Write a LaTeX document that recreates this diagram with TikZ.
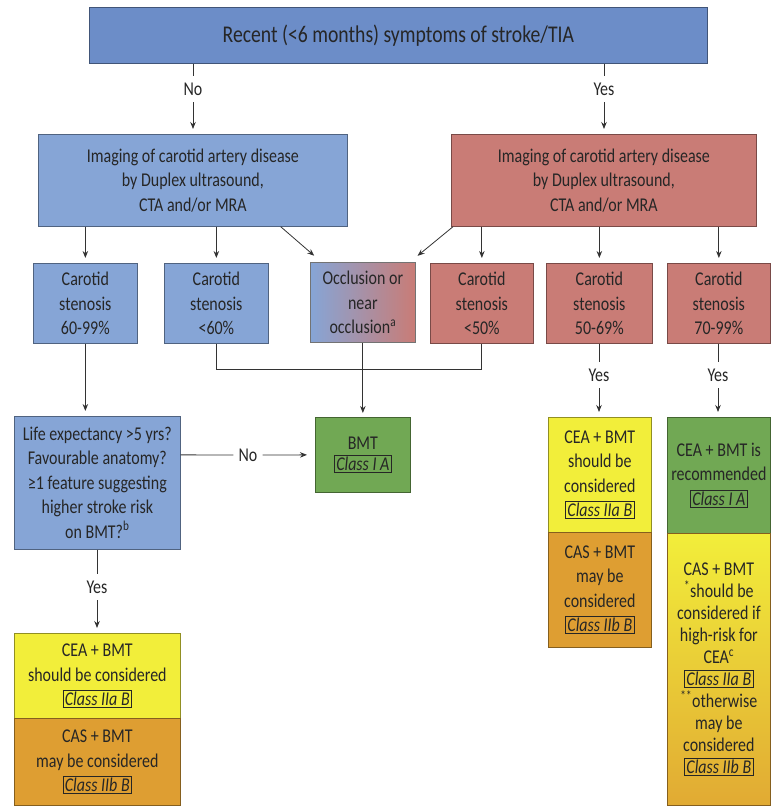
\documentclass[tikz,border=0pt]{standalone}
\usepackage{fontspec}
\setmainfont{Carlito}[FakeStretch=0.82]
\usetikzlibrary{arrows.meta}
\definecolor{topblue}{HTML}{6C8DC8}
\definecolor{blueB}{HTML}{86A5D6}
\definecolor{redB}{HTML}{C97C76}
\definecolor{greenB}{HTML}{71A854}
\definecolor{yellowB}{HTML}{F2EE3A}
\definecolor{orangeB}{HTML}{DE9E32}
\newcommand\cls[1]{{\setlength\fboxsep{1.5pt}\setlength\fboxrule{0.6pt}\fbox{\itshape #1}}}
\tikzset{
  bx/.style={draw=#1!60!black, fill=#1, line width=0.7pt, align=center, inner sep=0pt,
    text=black!85, font=\fontsize{19.5}{24.5}\selectfont, anchor=north west},
  lbl/.style={text=black!85, font=\fontsize{19.5}{20}\selectfont, inner sep=0pt, minimum height=26pt},
  ln/.style={draw=black!80, line width=0.8pt},
  arr/.style={ln, -{Stealth[length=7pt,width=5.5pt]}, shorten >=5pt},
}
\begin{document}
\begin{tikzpicture}[x=1pt,y=-1pt]
\useasboundingbox (0,0) rectangle (773,806);
% boxes
\node[bx=topblue, minimum width=618, minimum height=56, font=\fontsize{24}{26}\selectfont] (top) at (89,7) {Recent (<6 months) symptoms of stroke/TIA};
\node[bx=blueB, minimum width=309, minimum height=92] (limg) at (38,134) {Imaging of carotid artery disease\\by Duplex ultrasound,\\CTA and/or MRA};
\node[bx=redB, minimum width=305, minimum height=92] (rimg) at (451,134) {Imaging of carotid artery disease\\by Duplex ultrasound,\\CTA and/or MRA};
\node[bx=blueB, minimum width=104, minimum height=80] (s1) at (33,263) {Carotid\\stenosis\\60-99\%};
\node[bx=blueB, minimum width=104, minimum height=80] (s2) at (164,263) {Carotid\\stenosis\\<60\%};
\node[bx=blueB, left color=blueB, right color=redB, draw=black!55, minimum width=105, minimum height=80] (occ) at (310,262) {Occlusion or\\near\\occlusion\textsuperscript{a}};
\node[bx=redB, minimum width=103, minimum height=80] (s3) at (430,263) {Carotid\\stenosis\\<50\%};
\node[bx=redB, minimum width=106, minimum height=80] (s4) at (546,263) {Carotid\\stenosis\\50-69\%};
\node[bx=redB, minimum width=103, minimum height=80] (s5) at (667,263) {Carotid\\stenosis\\70-99\%};
\node[bx=greenB, minimum width=95, minimum height=75] (bmt) at (315,417) {BMT\\[-3pt]\cls{Class I A}};
\node[bx=blueB, minimum width=166, minimum height=133] (life) at (14,416) {Life expectancy >5 yrs?\\Favourable anatomy?\\≥1 feature suggesting\\higher stroke risk\\on BMT?\textsuperscript{b}};
\node[bx=yellowB, minimum width=166, minimum height=85] (r1a) at (14,633) {CEA + BMT\\should be considered\\\cls{Class IIa B}};
\node[bx=orangeB, minimum width=166, minimum height=87] (r1b) at (14,718) {CAS + BMT\\may be considered\\\cls{Class IIb B}};
\node[bx=yellowB, minimum width=103, minimum height=115] (r2a) at (548,417) {CEA + BMT\\should be\\considered\\\cls{Class IIa B}};
\node[bx=orangeB, minimum width=103, minimum height=115] (r2b) at (548,532) {CAS + BMT\\may be\\considered\\\cls{Class IIb B}};
\node[bx=greenB, minimum width=103, minimum height=116] (r3a) at (667,417) {CEA + BMT is\\recommended\\\cls{Class I A}};
\node[bx=yellowB, top color=yellowB, bottom color=orangeB!85!yellowB, draw=orangeB!60!black, minimum width=103, minimum height=272, font=\fontsize{19.5}{22}\selectfont] (r3b) at (667,533) {CAS + BMT\\\textsuperscript{*}should be\\considered if\\high-risk for\\CEA\textsuperscript{c}\\\cls{Class IIa B}\\\textsuperscript{**}otherwise\\may be\\considered\\\cls{Class IIb B}};
% labels
\node[lbl] (no1) at (193,89) {No};
\node[lbl] (yes1) at (604,89) {Yes};
\node[lbl, minimum height=0pt, inner xsep=5pt] (no2) at (248,455) {No};
\node[lbl] (yes2) at (97,587) {Yes};
\node[lbl] (yes3) at (599,375) {Yes};
\node[lbl] (yes4) at (718,375) {Yes};
\coordinate (join) at (0,369);
% connectors
\draw[ln] (top.south -| no1) -- (no1.north);
\draw[arr] (no1.south) -- (limg.north -| no1);
\draw[ln] (top.south -| yes1) -- (yes1.north);
\draw[arr] (yes1.south) -- (rimg.north -| yes1);
\draw[arr] (limg.south -| s1) -- (s1.north);
\draw[arr] (limg.south -| s2) -- (s2.north);
\draw[arr] ([xshift=-67pt]limg.south east) -- ([xshift=8pt,yshift=3pt]occ.north west);
\draw[arr] ([xshift=2pt]rimg.south west) -- ([xshift=-2pt,yshift=3pt]occ.north east);
\draw[arr] (rimg.south -| s3) -- (s3.north);
\draw[arr] (rimg.south -| s4) -- (s4.north);
\draw[arr] (rimg.south -| s5) -- (s5.north);
\draw[ln] (s2.south) |- (join -| s3) -- (s3.south);
\draw[arr, shorten >=4pt] (occ.south) -- (bmt.north);
\draw[arr] (s1.south) -- (s1.south |- life.north);
\draw[ln] (bmt.west -| life.east) -- (no2.west);
\draw[arr, shorten >=8pt] (no2.east) -- (bmt.west);
\draw[ln] (life.south -| yes2) -- (yes2.north);
\draw[arr] (yes2.south) -- (r1a.north -| yes2);
\draw[ln] (s4.south -| yes3) -- (yes3.north);
\draw[arr] (yes3.south) -- (r2a.north -| yes3);
\draw[ln] (s5.south -| yes4) -- (yes4.north);
\draw[arr] (yes4.south) -- (r3a.north -| yes4);
\end{tikzpicture}
\end{document}
